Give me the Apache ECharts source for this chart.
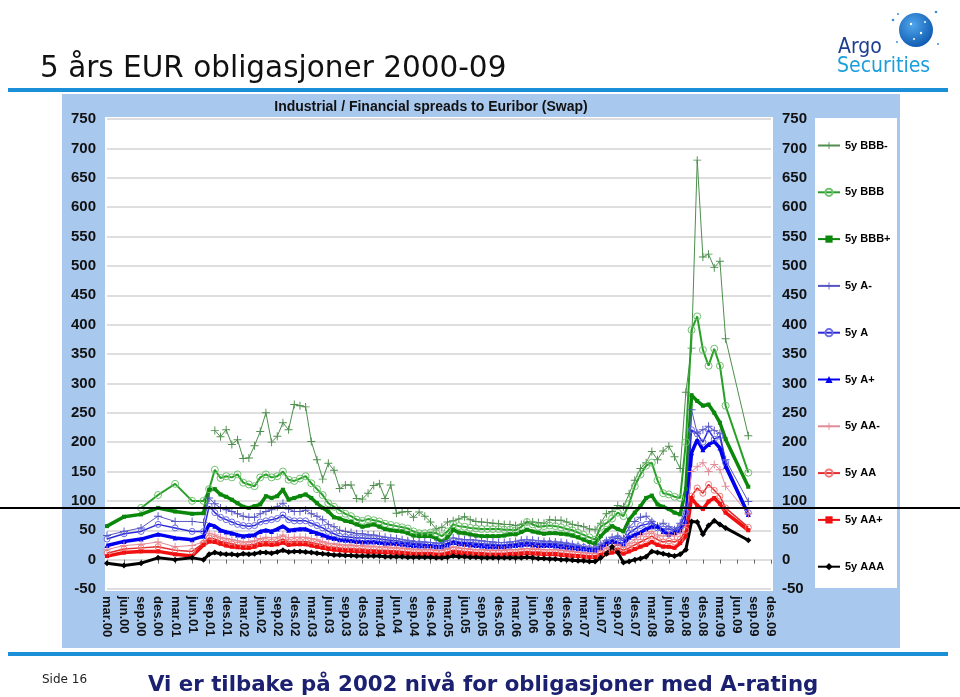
<!DOCTYPE html>
<html>
<head>
<meta charset="utf-8">
<title>5 års EUR obligasjoner 2000-09</title>
<script src="https://cdn.jsdelivr.net/npm/echarts@6/dist/echarts.min.js"></script>
<style>
html, body { margin: 0; padding: 0; background: #fff; }
#chart { width: 960px; height: 697px; }
</style>
</head>
<body>
<div id="chart"></div>
<script>
// monthly categories mar.00 .. des.09, labels shown every quarter
var monthNames = ['jan', 'feb', 'mar', 'apr', 'mai', 'jun', 'jul', 'aug', 'sep', 'okt', 'nov', 'des']
var years = ['00', '01', '02', '03', '04', '05', '06', '07', '08', '09']
var categories = []
years.forEach(function (y, yi) {
    monthNames.forEach(function (m, mi) {
        if (yi === 0 && mi < 2) return
        categories.push(m + '.' + y)
    })
})

var seriesNames = ['5y BBB-', '5y BBB', '5y BBB+', '5y A-', '5y A', '5y A+', '5y AA-', '5y AA', '5y AA+', '5y AAA']

// spreads in bp, one value per month from mar.00 (null = no observation)
var bbbMinus = [
    null, null, null, null, null, null, null, null, null, null, null, null,
    null, null, null, null, null, null, null, 220, 209, 221, 196, 204,
    172, 173, 194, 218, 250, 200, 210, 233, 221, 264, 262, 260,
    201, 170, 137, 164, 152, 121, 127, 127, 104, 103, 113, 126,
    129, 104, 127, 79, 81, 82, 72, 81, 74, 64, 52, 55,
    64, 66, 69, 73, 68, 65, 64, 63, 62, 61, 60, 60,
    58, 60, 64, 64, 63, 62, 68, 67, 67, 64, 60, 58,
    56, 52, 51, 62, 78, 82, 92, 90, 112, 135, 155, 165,
    184, 170, 185, 193, 175, 155, 285, 360, 680, 515, 520, 497,
    508, 376, null, null, null, 211
]
var bbb = [
    null, null, null, null, null, null, 88, null, null, 110, null, null,
    129, null, null, 100, null, 100, 120, 153, 139, 142, 140, 145,
    131, 128, 125, 140, 145, 140, 142, 150, 136, 134, 138, 142,
    130, 120, 110, 96, 90, 84, 78, 74, 68, 66, 69, 67,
    65, 61, 59, 57, 55, 53, 48, 45, 45, 46, 45, 40,
    48, 60, 57, 56, 54, 53, 52, 52, 52, 52, 51, 51,
    50, 56, 64, 60, 56, 57, 58, 57, 55, 52, 50, 46,
    42, 38, 34, 56, 62, 70, 80, 74, 95, 125, 145, 160,
    165, 135, 113, 111, 107, 105, 200, 391, 414, 357, 330, 359,
    330, 262, null, null, null, 148
]
var bbbPlus = [
    57, null, null, 73, null, null, 77, null, null, 88, null, null,
    82, null, null, 78, null, 79, 119, 120, 111, 107, 102, 96,
    90, 88, 91, 94, 108, 105, 108, 119, 102, 105, 108, 111,
    105, 96, 88, 82, 72, 70, 66, 64, 60, 56, 58, 60,
    56, 52, 50, 49, 48, 45, 41, 40, 40, 40, 36, 31,
    38, 51, 46, 45, 43, 41, 40, 40, 40, 40, 41, 43,
    43, 47, 51, 48, 46, 44, 45, 45, 44, 43, 41, 38,
    34, 30, 27, 40, 50, 57, 52, 48, 68, 80, 91, 105,
    109, 94, 90, 86, 80, 77, 120, 280, 270, 262, 264, 250,
    233, 205, null, null, null, 124
]
var aMinus = [
    41, null, null, 48, null, null, 54, null, null, 74, null, null,
    65, null, null, 65, null, 63, 105, 95, 88, 85, 82, 78,
    74, 72, 72, 78, 82, 85, 90, 96, 86, 82, 82, 84,
    78, 74, 68, 60, 56, 50, 48, 46, 44, 44, 42, 42,
    40, 38, 37, 36, 34, 32, 31, 30, 30, 29, 28, 28,
    32, 37, 35, 34, 34, 33, 32, 31, 30, 29, 29, 30,
    31, 33, 34, 33, 32, 31, 31, 30, 29, 28, 26, 24,
    22, 21, 20, 26, 32, 38, 40, 36, 55, 65, 72, 74,
    65, 57, 62, 56, 51, 62, 90, 255, 215, 221, 227, 220,
    215, 170, null, null, null, 99
]
var aMid = [
    35, null, null, 44, null, null, 48, null, null, 60, null, null,
    54, null, null, 48, null, 48, 91, 80, 72, 68, 64, 60,
    58, 57, 58, 64, 66, 68, 70, 76, 68, 66, 66, 66,
    62, 58, 54, 48, 44, 40, 39, 38, 37, 37, 36, 36,
    35, 34, 33, 32, 30, 29, 28, 27, 26, 25, 24, 24,
    28, 32, 30, 29, 29, 28, 27, 26, 26, 25, 25, 26,
    27, 29, 30, 29, 28, 28, 28, 27, 26, 25, 23, 22,
    21, 19, 18, 24, 30, 34, 37, 32, 45, 52, 58, 60,
    63, 54, 52, 52, 50, 57, 80, 221, 214, 200, 221, 205,
    210, 165, null, null, null, 80
]
var aPlus = [
    24, null, null, 31, null, null, 35, null, null, 43, null, null,
    37, null, null, 34, null, 40, 60, 57, 50, 47, 45, 42,
    40, 41, 42, 48, 50, 48, 52, 57, 50, 51, 52, 52,
    48, 45, 42, 38, 36, 34, 33, 32, 31, 30, 30, 30,
    29, 28, 28, 27, 26, 25, 24, 23, 23, 23, 22, 22,
    25, 29, 27, 26, 25, 24, 23, 22, 22, 22, 22, 23,
    24, 25, 26, 25, 24, 24, 24, 23, 22, 21, 20, 19,
    18, 17, 16, 20, 27, 31, 28, 26, 38, 42, 46, 52,
    56, 57, 48, 43, 46, 50, 65, 182, 204, 187, 196, 201,
    190, 159, null, null, null, 77
]
var aaMinus = [
    17, null, null, 24, null, null, 26, null, null, 30, null, null,
    22, null, null, 24, null, 30, 45, 42, 38, 36, 34, 32,
    30, 31, 32, 36, 38, 37, 38, 42, 37, 38, 38, 38,
    36, 34, 31, 28, 27, 26, 25, 25, 24, 24, 23, 23,
    22, 22, 21, 20, 20, 19, 18, 17, 17, 17, 16, 16,
    19, 22, 20, 19, 18, 17, 17, 16, 16, 16, 16, 17,
    17, 18, 19, 18, 18, 17, 17, 17, 16, 15, 14, 13,
    12, 11, 11, 16, 20, 23, 26, 22, 28, 34, 40, 44,
    48, 42, 40, 42, 40, 45, 60, 150, 158, 165, 150, 162,
    153, 125, null, null, null, 78
]
var aaMid = [
    11, null, null, 18, null, null, 20, null, null, 22, null, null,
    16, null, null, 14, null, 28, 37, 35, 31, 29, 27, 25,
    24, 25, 26, 30, 31, 30, 31, 35, 30, 31, 31, 31,
    29, 27, 25, 22, 21, 20, 19, 19, 18, 18, 17, 17,
    16, 16, 15, 15, 14, 13, 12, 12, 12, 12, 11, 11,
    13, 16, 15, 14, 13, 12, 12, 11, 11, 11, 11, 12,
    12, 13, 14, 13, 13, 12, 12, 12, 11, 10, 9, 8,
    7, 6, 6, 10, 14, 17, 20, 16, 20, 25, 30, 35,
    40, 34, 30, 32, 30, 35, 50, 108, 122, 113, 128, 118,
    108, 88, null, null, null, 55
]
var aaPlus = [
    6, null, null, 12, null, null, 14, null, null, 14, null, null,
    9, null, null, 6, null, 25, 31, 30, 27, 24, 22, 21,
    20, 20, 22, 25, 26, 25, 26, 29, 25, 26, 26, 26,
    24, 22, 20, 18, 17, 16, 15, 15, 14, 14, 13, 13,
    13, 12, 12, 11, 11, 10, 9, 9, 9, 9, 8, 8,
    10, 12, 11, 10, 10, 9, 9, 8, 8, 8, 8, 9,
    9, 10, 11, 10, 10, 9, 9, 9, 8, 7, 6, 6,
    5, 4, 4, 8, 10, 12, 14, 10, 14, 18, 22, 25,
    30, 25, 22, 22, 20, 28, 40, 105, 92, 86, 99, 105,
    95, 80, null, null, null, 50
]
var aaa = [
    -6, null, null, -10, null, null, -6, null, null, 3, null, null,
    0, null, null, 3, null, 0, 9, 12, 10, 9, 9, 8,
    10, 9, 10, 12, 12, 11, 13, 16, 13, 14, 14, 13,
    12, 11, 10, 9, 8, 8, 7, 7, 6, 6, 6, 6,
    6, 5, 5, 5, 5, 4, 4, 4, 4, 4, 3, 3,
    4, 6, 5, 5, 4, 4, 3, 3, 3, 3, 3, 3,
    3, 3, 4, 3, 2, 2, 1, 1, 0, 0, -1, -2,
    -2, -3, -3, 3, 10, 22, 12, -5, -3, 0, 2, 5,
    14, 12, 10, 8, 6, 9, 17, 65, 64, 43, 58, 66,
    60, 54, null, null, null, 33
]

var plusSymbol = 'path://M4.4,0h1.2v4.4h4.4v1.2h-4.4v4.4h-1.2v-4.4h-4.4v-1.2h4.4z'

function lineSeries(name, data, color, width, symbol, size, hollow) {
    return {
        name: name,
        type: 'line',
        data: data,
        connectNulls: true,
        showAllSymbol: true,
        symbol: symbol,
        symbolSize: size,
        lineStyle: { color: color, width: width },
        itemStyle: hollow
            ? { color: 'rgba(255,255,255,0)', borderColor: hollow, borderWidth: 1 }
            : { color: color, borderWidth: 0 },
        emphasis: { disabled: true }
    }
}

var font = "'Liberation Sans', Arial, sans-serif"
var myChart = echarts.init(document.getElementById('chart'))

var option = {
    animation: false,
    backgroundColor: '#ffffff',
    grid: { left: 107, right: 189, top: 119, bottom: 108 },
    legend: {
        orient: 'vertical',
        left: 817,
        top: 140,
        padding: 0,
        itemGap: 35.8,
        itemWidth: 22,
        itemHeight: 9,
        data: seriesNames,
        textStyle: { fontFamily: font, fontSize: 11, fontWeight: 'bold', color: '#000' }
    },
    xAxis: {
        type: 'category',
        boundaryGap: false,
        data: categories,
        axisLine: { show: false },
        axisTick: { show: true, interval: 2, length: 4, lineStyle: { color: '#666' } },
        axisLabel: {
            interval: 2, rotate: -90, margin: 7,
            fontFamily: font, fontSize: 13, fontWeight: 'bold', color: '#111'
        }
    },
    yAxis: [{
        type: 'value', min: -50, max: 750, interval: 50,
        axisLine: { show: false }, axisTick: { show: false },
        axisLabel: { margin: 11, fontFamily: font, fontSize: 15, fontWeight: 'bold', color: '#111' },
        splitLine: { lineStyle: { color: '#d3d3d3', width: 1.5 } }
    }, {
        type: 'value', min: -50, max: 750, interval: 50, position: 'right',
        axisLine: { show: false }, axisTick: { show: false },
        axisLabel: { margin: 11, fontFamily: font, fontSize: 15, fontWeight: 'bold', color: '#111' },
        splitLine: { show: false }
    }],
    graphic: [
        { type: 'rect', z: -20, shape: { x: 62, y: 94, width: 838, height: 554 }, style: { fill: '#a9c8ee' } },
        { type: 'rect', z: -19, shape: { x: 105, y: 117, width: 668, height: 474 }, style: { fill: '#ffffff' } },
        { type: 'rect', z: -19, shape: { x: 815, y: 118, width: 82, height: 470 }, style: { fill: '#ffffff' } },
        { type: 'rect', shape: { x: 8, y: 88, width: 940, height: 4 }, style: { fill: '#1b8fd8' } },
        { type: 'rect', shape: { x: 8, y: 652, width: 940, height: 4 }, style: { fill: '#1b8fd8' } },
        {
            type: 'text', x: 40, y: 69,
            style: { text: '5 års EUR obligasjoner 2000-09', font: "29.5px 'DejaVu Sans', sans-serif", fill: '#111', verticalAlign: 'middle' }
        },
        {
            type: 'text', x: 431, y: 107,
            style: { text: 'Industrial / Financial spreads to Euribor (Swap)', font: "bold 14px 'Liberation Sans', Arial, sans-serif", fill: '#111', align: 'center', verticalAlign: 'middle' }
        },
        {
            type: 'text', x: 42, y: 680,
            style: { text: 'Side 16', font: "12px 'DejaVu Sans', sans-serif", fill: '#222', verticalAlign: 'middle' }
        },
        {
            type: 'text', x: 148, y: 685,
            style: { text: 'Vi er tilbake på 2002 nivå for obligasjoner med A-rating', font: "bold 21.3px 'DejaVu Sans', sans-serif", fill: '#1b2170', verticalAlign: 'middle' }
        },
        // logo
        {
            type: 'circle', shape: { cx: 916, cy: 30, r: 17 },
            style: {
                fill: new echarts.graphic.RadialGradient(0.4, 0.35, 0.7, [
                    { offset: 0, color: '#4fa6ea' }, { offset: 1, color: '#0d58b0' }
                ])
            }
        },
        { type: 'circle', shape: { cx: 911, cy: 24, r: 1.2 }, style: { fill: '#fff' } },
        { type: 'circle', shape: { cx: 921, cy: 33, r: 1.2 }, style: { fill: '#fff' } },
        { type: 'circle', shape: { cx: 914, cy: 39, r: 1 }, style: { fill: '#fff' } },
        { type: 'circle', shape: { cx: 925, cy: 22, r: 1 }, style: { fill: '#fff' } },
        { type: 'circle', shape: { cx: 893, cy: 20, r: 1.3 }, style: { fill: '#3d8fdc' } },
        { type: 'circle', shape: { cx: 898, cy: 14, r: 1 }, style: { fill: '#3d8fdc' } },
        { type: 'circle', shape: { cx: 936, cy: 12, r: 1.3 }, style: { fill: '#3d8fdc' } },
        { type: 'circle', shape: { cx: 938, cy: 44, r: 1 }, style: { fill: '#3d8fdc' } },
        { type: 'circle', shape: { cx: 897, cy: 42, r: 1 }, style: { fill: '#3d8fdc' } },
        {
            type: 'text', x: 838, y: 48,
            style: { text: 'Argo', font: "21px 'Liberation Sans Narrow', 'DejaVu Sans Condensed', sans-serif", fill: '#1c3f8f', verticalAlign: 'middle' }
        },
        {
            type: 'text', x: 837, y: 67,
            style: { text: 'Securities', font: "21px 'Liberation Sans Narrow', 'DejaVu Sans Condensed', sans-serif", fill: '#1a9ddc', verticalAlign: 'middle' }
        },
        {
            type: 'line', z: 100, shape: { x1: 0, y1: 508, x2: 960, y2: 508 },
            style: { stroke: '#000', lineWidth: 2 }
        }
    ],
    series: [
        lineSeries('5y BBB-', bbbMinus, '#4e8f4e', 1, plusSymbol, 8),
        lineSeries('5y BBB', bbb, '#26a026', 2, 'circle', 7, '#72c172'),
        lineSeries('5y BBB+', bbbPlus, '#0b870b', 3.5, 'rect', 4),
        lineSeries('5y A-', aMinus, '#5555c4', 1, plusSymbol, 8),
        lineSeries('5y A', aMid, '#2a2ad8', 1.5, 'circle', 6, '#6b6be6'),
        lineSeries('5y A+', aPlus, '#0000f0', 3.5, 'triangle', 5),
        lineSeries('5y AA-', aaMinus, '#e38a98', 1, plusSymbol, 8),
        lineSeries('5y AA', aaMid, '#e42c2c', 1.5, 'circle', 6, '#f07a7a'),
        lineSeries('5y AA+', aaPlus, '#f01010', 3.5, 'rect', 4),
        lineSeries('5y AAA', aaa, '#000000', 3, 'diamond', 6)
    ]
}

myChart.setOption(option)
</script>
</body>
</html>
